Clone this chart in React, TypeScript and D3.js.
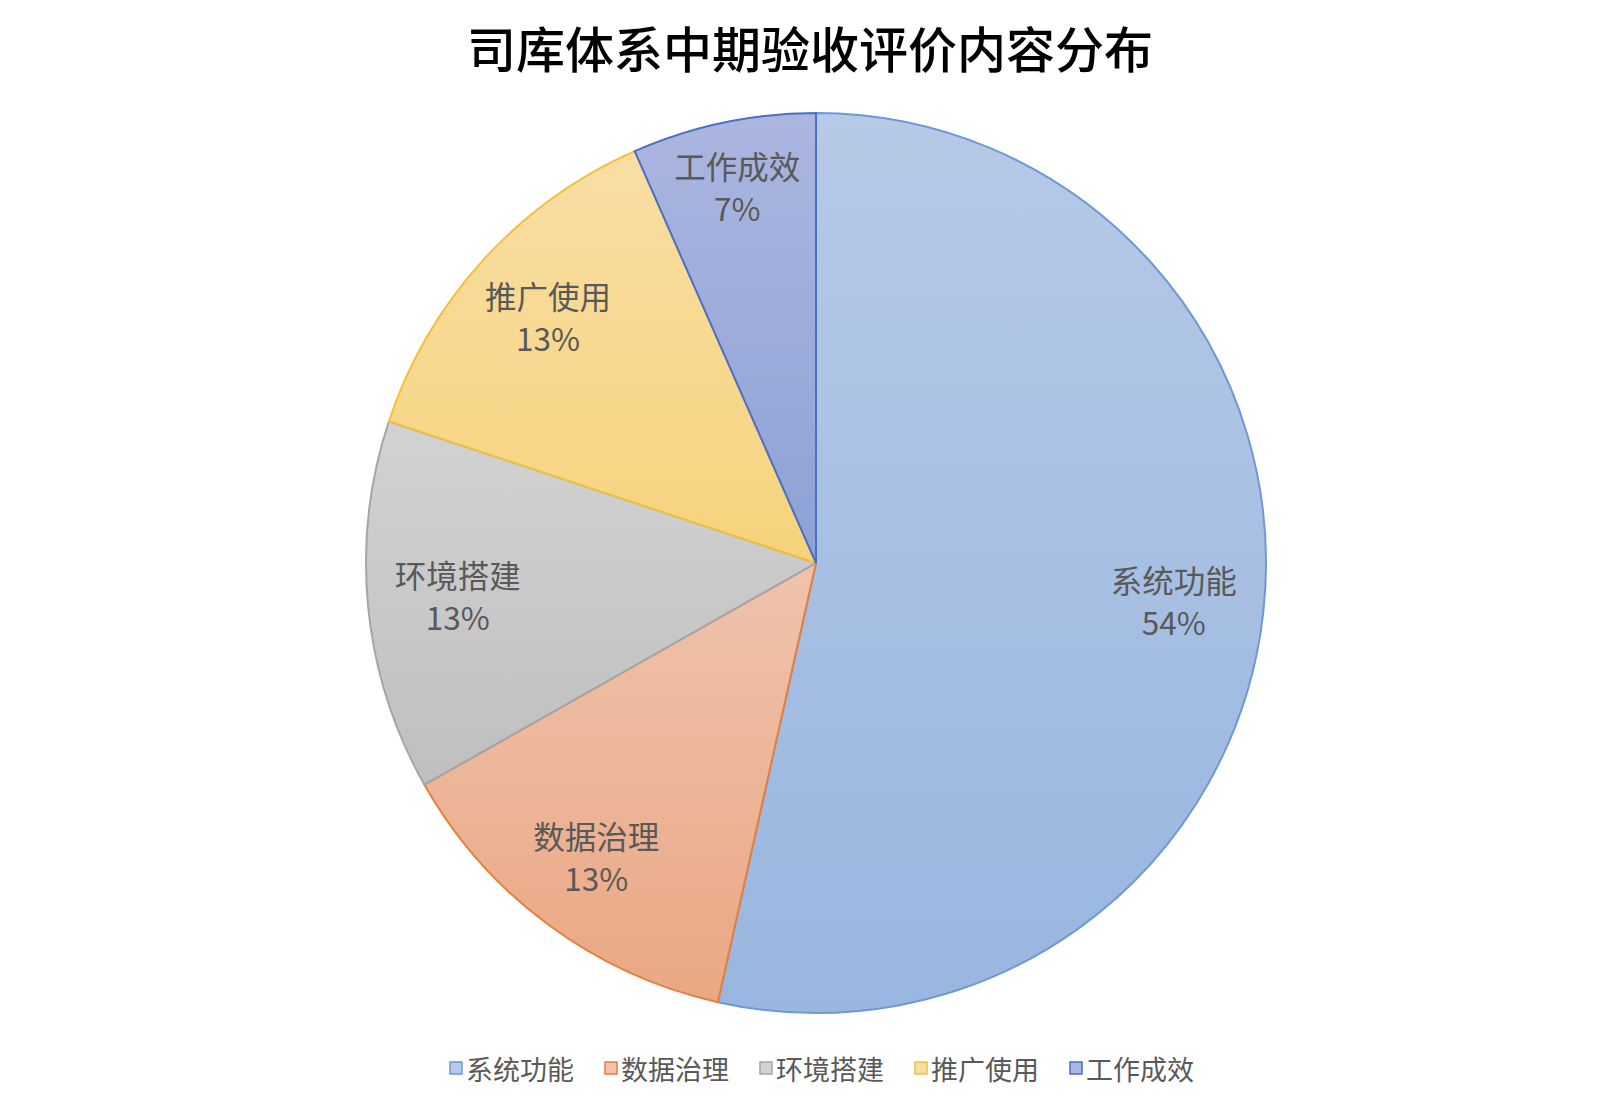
import React from "react";
import * as d3 from "d3";

const categories = ["系统功能", "数据治理", "环境搭建", "推广使用", "工作成效"];
const values = [53.5, 13.3, 13.3, 13.3, 6.6];
const strokeColors = ["#6f98d6", "#e57f3c", "#a5a5a5", "#f2bf3a", "#4a6fc4"];
const topColors = ["#b6c9e7", "#efc3ad", "#d2d2d2", "#f9dea4", "#abb6e0"];
const bottomColors = ["#98b6df", "#eaa783", "#bfbfbf", "#f6d37c", "#8da1d5"];
const labelRadius = [0.8, 0.82, 0.8, 0.805, 0.85];
const title = "司库体系中期验收评价内容分布";

const W = 1620;
const H = 1102;
const cx = 816;
const cy = 563;
const R = 450;
const font = "'Noto Sans CJK SC', 'Noto Sans', sans-serif";

export default function App() {
  const total = d3.sum(values);
  const pie = d3.pie<number>().sort(null).value((d) => d)(values);
  const arc = d3.arc<d3.PieArcDatum<number>>().innerRadius(0).outerRadius(R);
  const fmt = d3.format(".0%");
  const legendX = d3.scaleBand<string>().domain(categories).range([456, 456 + 155 * categories.length]);

  return (
    <svg width={W} height={H} style={{ display: "block", position: "absolute", left: 0, top: 0 }}>
      <defs>
        {categories.map((c, i) => (
          <linearGradient key={c} id={`g${i}`} x1="0" y1="0" x2="0" y2="1">
            <stop offset="0" stopColor={topColors[i]} />
            <stop offset="1" stopColor={bottomColors[i]} />
          </linearGradient>
        ))}
      </defs>
      <rect width={W} height={H} fill="#fff" />
      <text x={W / 2} y={46} textAnchor="middle" dominantBaseline="central" fontFamily={font} fontSize={49} fontWeight={500} fill="#000">
        {title}
      </text>
      <g transform={`translate(${cx},${cy})`}>
        {pie.map((d, i) => (
          <path key={categories[i]} d={arc(d) || ""} fill={`url(#g${i})`} stroke={strokeColors[i]} strokeWidth={2} strokeLinejoin="round" />
        ))}
        {pie.map((d, i) => {
          const la = d3.arc<d3.PieArcDatum<number>>().innerRadius(R * labelRadius[i]).outerRadius(R * labelRadius[i]);
          const [lx, ly] = la.centroid(d);
          return (
            <text key={categories[i]} x={lx} y={ly} textAnchor="middle" fontFamily={font} fontSize={31.5} fill="#595959">
              <tspan x={lx} dy={-10}>{categories[i]}</tspan>
              <tspan x={lx} dy={42}>{fmt(values[i] / total)}</tspan>
            </text>
          );
        })}
      </g>
      <g>
        {categories.map((c, i) => {
          const x = legendX(c)!;
          return (
            <g key={c} transform={`translate(${x},1068)`}>
              <rect x={-6} y={-6} width={12} height={12} fill={topColors[i]} stroke={strokeColors[i]} strokeWidth={1.5} />
              <text x={10} y={0} dominantBaseline="central" fontFamily={font} fontSize={27} fill="#595959">
                {c}
              </text>
            </g>
          );
        })}
      </g>
    </svg>
  );
}
